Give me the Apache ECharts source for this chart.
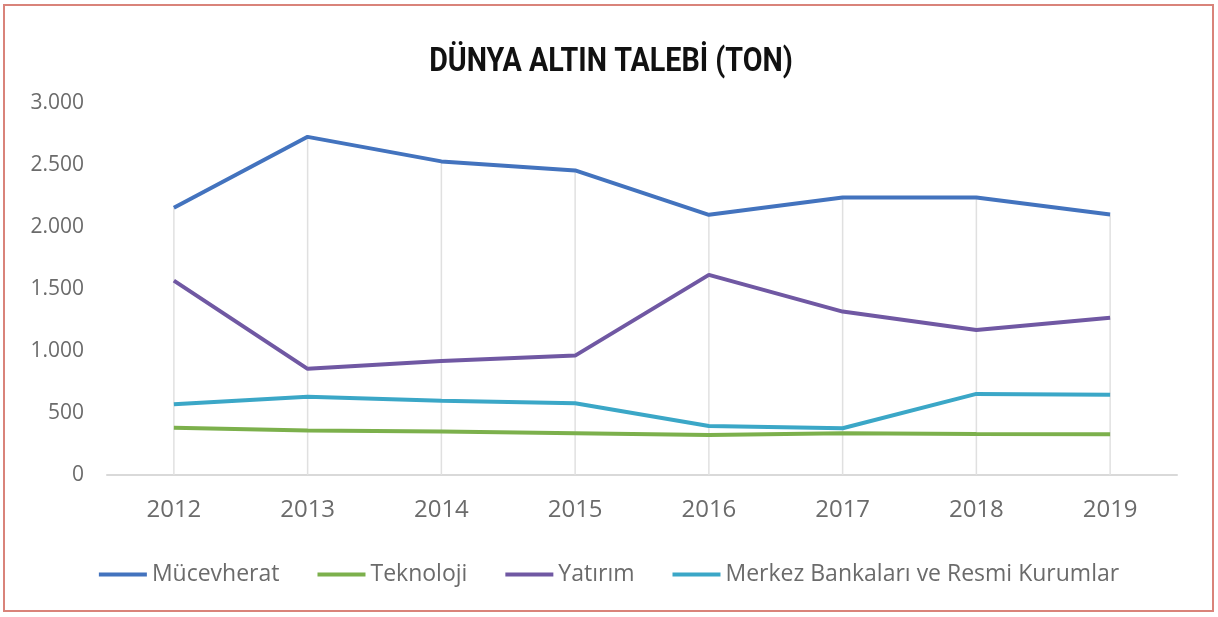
<!DOCTYPE html>
<html>
<head>
<meta charset="utf-8">
<title>Dünya Altın Talebi</title>
<script src="https://cdn.jsdelivr.net/npm/echarts@6/dist/echarts.min.js"></script>
<style>
  html, body { margin: 0; padding: 0; background: #fff; }
  #chart { width: 1218px; height: 617px; }
  #frame {
    position: absolute; left: 3px; top: 4px; width: 1207px; height: 604px;
    border: 2px solid #d9837a; pointer-events: none;
  }
</style>
</head>
<body>
<div id="chart"></div>
<div id="frame"></div>
<script>
const years = ['2012', '2013', '2014', '2015', '2016', '2017', '2018', '2019']
const mucevherat = [2155, 2727, 2529, 2456, 2098, 2238, 2238, 2100]
const teknoloji = [382, 358, 350, 337, 323, 336, 331, 328]
const yatirim = [1567, 856, 920, 963, 1614, 1318, 1170, 1268]
const merkez = [571, 632, 598, 579, 395, 377, 654, 647]
const yTicks = [0, 500, 1000, 1500, 2000, 2500, 3000]

const seriesNames = ['Mücevherat', 'Teknoloji', 'Yatırım', 'Merkez Bankaları ve Resmi Kurumlar']
const colors = ['#4373be', '#7cb04c', '#7058a3', '#3ba7c7']

// drop lines: from the axis up to the highest point in each year
const dropTop = years.map((y, i) => Math.max(mucevherat[i], teknoloji[i], yatirim[i], merkez[i]))

function trNumber(v) {
  return String(v).replace(/\B(?=(\d{3})+(?!\d))/g, '.')
}

const chart = echarts.init(document.getElementById('chart'))

const lineSeries = [mucevherat, teknoloji, yatirim, merkez].map((data, i) => ({
  name: seriesNames[i],
  type: 'line',
  data: data,
  symbol: 'none',
  z: 3,
  lineStyle: { color: colors[i], width: 4 },
  itemStyle: { color: colors[i] }
}))

chart.setOption({
  animation: false,
  // title drawn as graphic text so it can be narrowed like the original condensed face
  graphic: [{
    type: 'text',
    x: 611,
    y: 63,
    scaleX: 0.87,
    style: {
      text: 'DÜNYA ALTIN TALEBİ (TON)',
      font: 'bold 33px Roboto, sans-serif',
      fill: '#111',
      align: 'center',
      verticalAlign: 'middle'
    }
  }],
  legend: {
    data: seriesNames,
    left: 'center',
    top: 558,
    icon: 'rect',
    itemWidth: 48,
    itemHeight: 4,
    itemGap: 38,
    textStyle: {
      fontFamily: '"Open Sans", sans-serif',
      fontSize: 23,
      color: '#6b6b6b'
    }
  },
  grid: {
    left: 107,
    right: 41,
    top: 103,
    bottom: 142,
    containLabel: false
  },
  xAxis: {
    type: 'category',
    data: years,
    boundaryGap: true,
    axisLine: { lineStyle: { color: '#d9d9d9', width: 2 } },
    axisTick: { show: false },
    splitLine: { show: false },
    axisLabel: {
      margin: 23,
      fontFamily: '"Open Sans", sans-serif',
      fontSize: 24,
      color: '#6b6b6b'
    }
  },
  yAxis: {
    type: 'value',
    min: yTicks[0],
    max: yTicks[yTicks.length - 1],
    interval: yTicks[1] - yTicks[0],
    axisLine: { show: false },
    axisTick: { show: false },
    splitLine: { show: false },
    axisLabel: {
      margin: 23,
      fontFamily: '"Open Sans", sans-serif',
      fontSize: 21,
      color: '#6b6b6b',
      formatter: trNumber
    }
  },
  series: [{
    name: 'drop',
    type: 'bar',
    data: dropTop,
    barWidth: 1.5,
    silent: true,
    z: 1,
    itemStyle: { color: '#e0e0e0' }
  }].concat(lineSeries)
})
</script>
</body>
</html>
